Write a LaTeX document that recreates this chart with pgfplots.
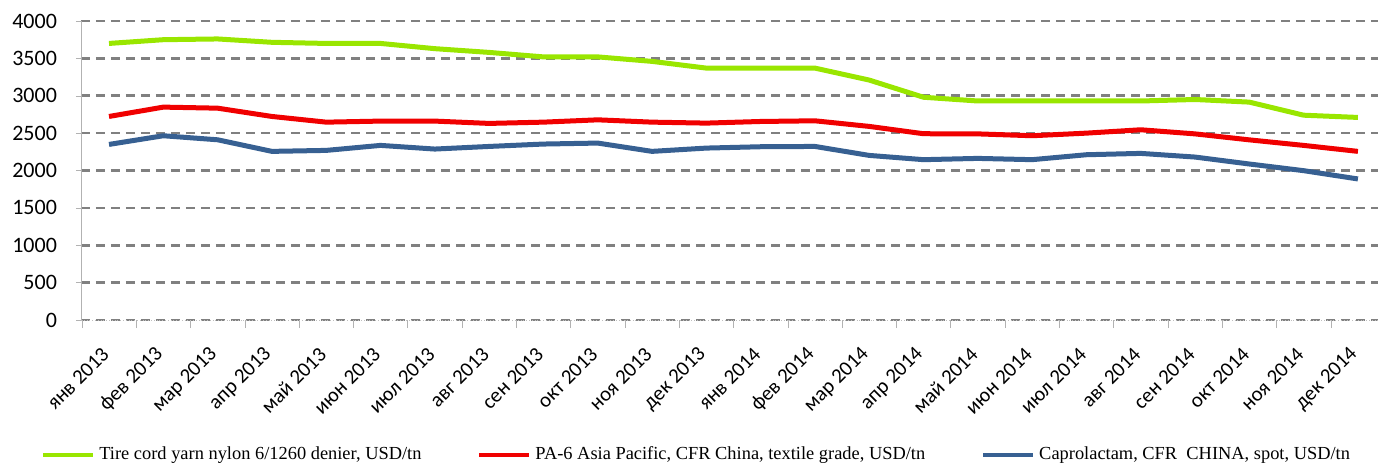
\documentclass[border=0pt]{standalone}
\usepackage{fontspec}
\usepackage{pgfplots}
\pgfplotsset{compat=1.18}
\setmainfont{Carlito}
\newfontfamily\legfont{Liberation Serif}

\definecolor{cgreen}{RGB}{153,230,0}
\definecolor{cred}{RGB}{240,0,0}
\definecolor{cblue}{RGB}{55,96,146}
\definecolor{cgrid}{RGB}{128,128,128}

\begin{document}
\begin{tikzpicture}
\begin{axis}[
    name=ax,
    scale only axis,
    width=648.5pt,
    height=149.5pt,
    xmin=-0.516, xmax=23.37,
    ymin=0, ymax=4000,
    ytick={0,500,...,4000},
    xtick={0,...,23},
    xticklabels={янв 2013,фев 2013,мар 2013,апр 2013,май 2013,июн 2013,июл 2013,авг 2013,сен 2013,окт 2013,ноя 2013,дек 2013,янв 2014,фев 2014,мар 2014,апр 2014,май 2014,июн 2014,июл 2014,авг 2014,сен 2014,окт 2014,ноя 2014,дек 2014},
    minor xtick={-0.5,0.5,...,23.5},
    axis x line*=bottom,
    axis y line*=left,
    x axis line style={gray!50, densely dotted, -},
    y axis line style={gray!60, -},
    tick align=outside,
    major tick length=2.5pt,
    minor tick length=4pt,
    x tick style={draw=none},
    minor x tick style={draw=gray!60},
    y tick style={gray!60},
    ymajorgrids=true,
    grid style={cgrid, line width=1.3pt, dash pattern=on 4.5pt off 3pt},
    xticklabel style={rotate=45, anchor=east, xshift=-7pt, yshift=-8pt, font=\fontsize{10.4}{12}\selectfont},
    yticklabel style={xshift=-6pt, font=\fontsize{11}{13}\selectfont},
    /pgf/number format/assume math mode=true,
    /pgf/number format/1000 sep={},
    legend columns=-1,
    legend style={at={(0,0)}, anchor=west, xshift=-20pt, yshift=-67.5pt,
        draw=none, fill=none, inner sep=0pt,
        font=\legfont\fontsize{9.2}{10}\selectfont,
        /tikz/every even column/.append style={column sep=26pt}},
    legend image code/.code={\draw[#1, line width=2pt] (0pt,0pt) -- (25pt,0pt);},
    every axis plot/.append style={line width=2.5pt, line join=round},
]
\addplot[cgreen] coordinates {
    (0,3700) (1,3750) (2,3760) (3,3715) (4,3700) (5,3700)
    (6,3630) (7,3580) (8,3520) (9,3520) (10,3460) (11,3370)
    (12,3370) (13,3370) (14,3210) (15,2980) (16,2930) (17,2930)
    (18,2930) (19,2930) (20,2950) (21,2915) (22,2740) (23,2710)
};
\addlegendentry{Tire cord yarn nylon 6/1260 denier, USD/tn}
\addplot[cred] coordinates {
    (0,2723) (1,2848) (2,2834) (3,2723) (4,2647) (5,2661)
    (6,2661) (7,2630) (8,2647) (9,2678) (10,2647) (11,2634)
    (12,2656) (13,2665) (14,2590) (15,2492) (16,2490) (17,2465)
    (18,2500) (19,2545) (20,2490) (21,2410) (22,2336) (23,2256)
};
\addlegendentry{PA-6 Asia Pacific, CFR China, textile grade, USD/tn}
\addplot[cblue] coordinates {
    (0,2349) (1,2465) (2,2411) (3,2256) (4,2269) (5,2336)
    (6,2287) (7,2322) (8,2354) (9,2367) (10,2256) (11,2300)
    (12,2318) (13,2322) (14,2202) (15,2145) (16,2162) (17,2145)
    (18,2211) (19,2229) (20,2180) (21,2087) (22,1998) (23,1887)
};
\addlegendentry{Caprolactam, CFR\ \ CHINA, spot, USD/tn}
\end{axis}
\pgfresetboundingbox
\path[use as bounding box] ([xshift=-40.5pt,yshift=-71.5pt]ax.south west) rectangle ++(689pt,231.5pt);
\end{tikzpicture}
\end{document}
